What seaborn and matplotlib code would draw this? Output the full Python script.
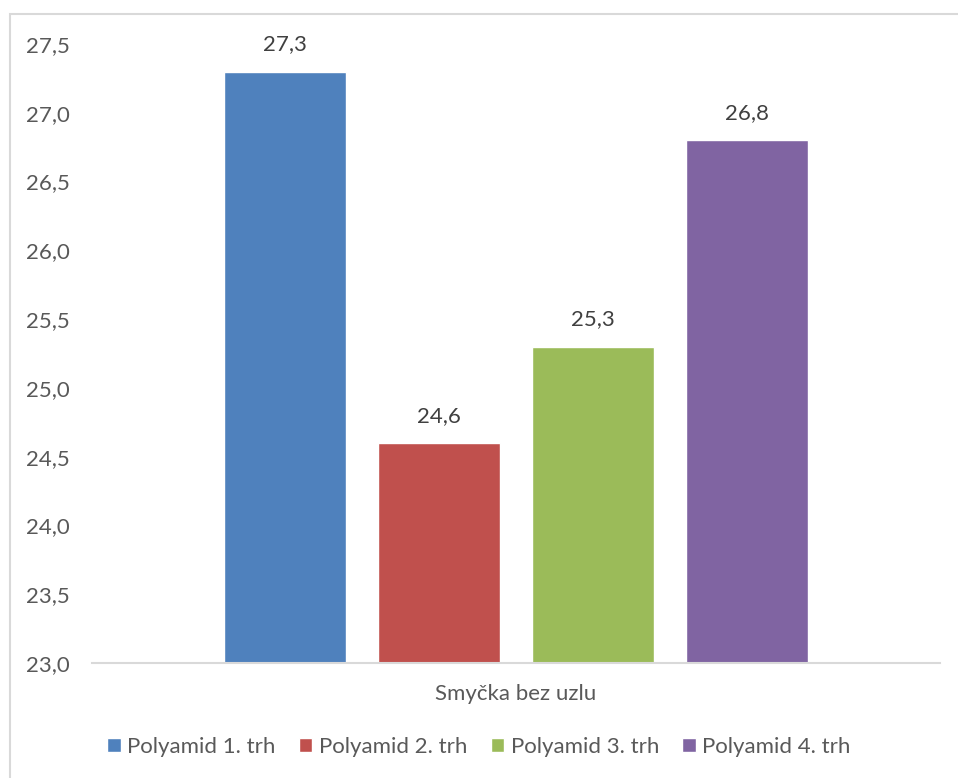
import matplotlib
matplotlib.use("Agg")
import matplotlib.pyplot as plt
import matplotlib.patches as mpatches
import seaborn as sns
import pandas as pd

# Data
kategorie = ["Smyčka bez uzlu"]
serie = ["Polyamid 1. trh", "Polyamid 2. trh", "Polyamid 3. trh", "Polyamid 4. trh"]
hodnoty = [27.3, 24.6, 25.3, 26.8]
barvy = ["#4F81BD", "#C0504D", "#9BBB59", "#8064A2"]
y_ticks = [23.0, 23.5, 24.0, 24.5, 25.0, 25.5, 26.0, 26.5, 27.0, 27.5]

df = pd.DataFrame({
    "kategorie": kategorie * len(serie),
    "serie": serie,
    "hodnota": hodnoty,
})

sns.set_theme(style="white")
plt.rcParams["font.family"] = ["Lato", "DejaVu Sans"]

FS = 16

fig = plt.figure(figsize=(9.58, 7.78), dpi=100)
W, H = 958, 778
ax = fig.add_axes([92 / W, (H - 663) / H, (940 - 92) / W, (663 - 44) / H])

sns.barplot(data=df, x="kategorie", y="hodnota", hue="serie",
            palette=barvy, saturation=1, width=0.7264, gap=0.208,
            ax=ax, legend=True)

ax.set_ylim(23.0, 27.5)
ax.set_xlim(-0.5, 0.5)
ax.set_yticks(y_ticks)
ax.set_yticklabels([f"{v:.1f}".replace(".", ",") for v in y_ticks],
                   color="#595959", fontsize=FS)
ax.tick_params(axis="y", length=0, pad=16)
ax.tick_params(axis="x", length=0, pad=15, labelsize=FS, labelcolor="#595959")
ax.set_xlabel("")
ax.set_ylabel("")

for s in ["top", "right", "left"]:
    ax.spines[s].set_visible(False)
ax.spines["bottom"].set_color("#D9D9D9")
ax.spines["bottom"].set_linewidth(1.5)

# Value labels above bars
for cont in ax.containers:
    for bar in cont:
        v = bar.get_height()
        ax.annotate(f"{v:.1f}".replace(".", ","),
                    (bar.get_x() + bar.get_width() / 2, v),
                    xytext=(0, 19.5), textcoords="offset points",
                    ha="center", va="center", fontsize=FS, color="#404040")

# Legend below the plot
handles, labels = ax.get_legend_handles_labels()
ax.legend_.remove()
fig.legend(handles, labels, loc="center", bbox_to_anchor=(479 / W, (H - 747) / H),
           ncol=4, frameon=False, fontsize=FS, handlelength=0.6, handleheight=0.6,
           handletextpad=0.3, columnspacing=1.05, labelcolor="#595959")

# Chart area border
fig.patches.append(mpatches.Rectangle((10 / W, -0.01), 1.0, (H - 14) / H + 0.01,
                                      transform=fig.transFigure, fill=False,
                                      edgecolor="#D9D9D9", linewidth=1.5))

fig.savefig("out.png", dpi=100)
